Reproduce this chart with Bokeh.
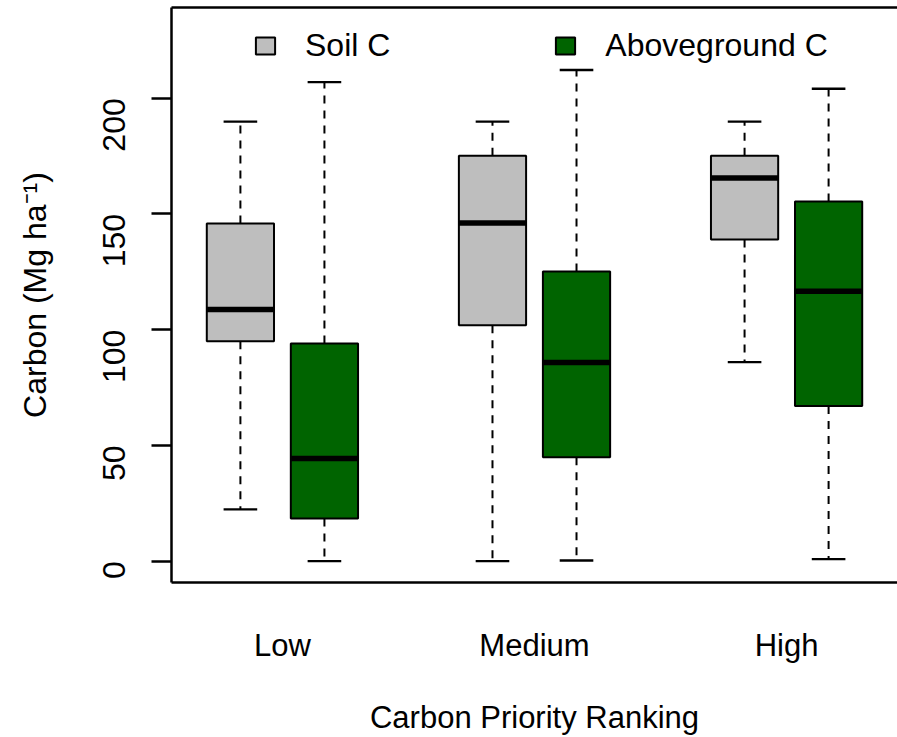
import math

from bokeh.embed import file_html
from bokeh.models import ColumnDataSource, FixedTicker, Legend, LegendItem, LinearAxis, Range1d
from bokeh.plotting import figure
from bokeh.resources import INLINE

# values (Mg ha^-1)
groups = ["Low", "Medium", "High"]
soil_upper = [189.9, 189.9, 189.9]
soil_q3 = [145.9, 175.2, 175.2]
soil_med = [108.7, 146.1, 165.5]
soil_q1 = [95.0, 101.9, 139.0]
soil_lower = [22.4, 0.0, 86.0]
ag_upper = [207.0, 212.2, 204.1]
ag_q3 = [94.0, 125.2, 155.4]
ag_med = [44.4, 85.8, 116.6]
ag_q1 = [18.5, 44.9, 67.0]
ag_lower = [0.0, 0.3, 0.9]
y_ticks = [0, 50, 100, 150, 200]

FONT = "Liberation Sans"
SOIL_COLOR = "#BEBEBE"
AG_COLOR = "#006400"

# R-style positions: 1,2 | 4,5 | 7,8, box width 0.8
soil_x = [3 * i + 1 for i in range(len(groups))]
ag_x = [3 * i + 2 for i in range(len(groups))]
group_x = [3 * i + 1.5 for i in range(len(groups))]


def box_source(xs, lower, q1, med, q3, upper):
    return ColumnDataSource(dict(
        x=xs, lower=lower, q1=q1, med=med, q3=q3, upper=upper,
        cl=[x - 0.2 for x in xs], cr=[x + 0.2 for x in xs],
        ml=[x - 0.4 for x in xs], mr=[x + 0.4 for x in xs],
    ))


p = figure(width=897, height=737, output_backend="svg", toolbar_location=None,
           x_range=Range1d(0.18, 8.82), y_range=Range1d(-9.2, 239.2),
           min_border_left=171, min_border_top=7, min_border_right=0, min_border_bottom=154)
p.outline_line_color = None
p.xgrid.visible = False
p.ygrid.visible = False
p.background_fill_color = "white"
p.border_fill_color = "white"


def draw(src, color):
    p.segment(x0="x", y0="q3", x1="x", y1="upper", source=src, line_color="black",
              line_width=2, line_dash="8 7")
    p.segment(x0="x", y0="q1", x1="x", y1="lower", source=src, line_color="black",
              line_width=2, line_dash="8 7")
    p.segment(x0="cl", y0="upper", x1="cr", y1="upper", source=src, line_color="black", line_width=2.3)
    p.segment(x0="cl", y0="lower", x1="cr", y1="lower", source=src, line_color="black", line_width=2.3)
    r = p.vbar(x="x", width=0.8, bottom="q1", top="q3", source=src, fill_color=color,
               line_color="black", line_width=2)
    p.segment(x0="ml", y0="med", x1="mr", y1="med", source=src, line_color="black",
              line_width=5.5, line_cap="butt")
    return r


soil_r = draw(box_source(soil_x, soil_lower, soil_q1, soil_med, soil_q3, soil_upper), SOIL_COLOR)
ag_r = draw(box_source(ag_x, ag_lower, ag_q1, ag_med, ag_q3, ag_upper), AG_COLOR)

# y axis
yax = p.yaxis[0]
yax.ticker = FixedTicker(ticks=y_ticks)
yax.minor_tick_line_color = None
yax.major_tick_in = 0
yax.major_tick_out = 20
yax.major_tick_line_width = 2.3
yax.axis_line_width = 2.5
yax.major_label_orientation = math.pi / 2
yax.major_label_text_font = FONT
yax.major_label_text_font_size = "32px"
yax.major_label_text_color = "black"
yax.major_label_standoff = 37
yax.axis_label = "Carbon (Mg ha\u207b\u00b9)"
yax.axis_label_text_font = FONT
yax.axis_label_text_font_size = "32px"
yax.axis_label_text_font_style = "normal"
yax.axis_label_text_color = "black"
yax.axis_label_standoff = 37

# x axis
xax = p.xaxis[0]
xax.ticker = FixedTicker(ticks=group_x)
xax.major_label_overrides = {gx: g for gx, g in zip(group_x, groups)}
xax.minor_tick_line_color = None
xax.major_tick_in = 0
xax.major_tick_out = 0
xax.axis_line_width = 2.5
xax.major_label_text_font = FONT
xax.major_label_text_font_size = "31px"
xax.major_label_text_color = "black"
xax.major_label_standoff = 45
xax.axis_label = "Carbon Priority Ranking"
xax.axis_label_text_font = FONT
xax.axis_label_text_font_size = "31px"
xax.axis_label_text_font_style = "normal"
xax.axis_label_text_color = "black"
xax.axis_label_standoff = 34

# top edge of the box frame
top = LinearAxis(ticker=FixedTicker(ticks=[]), major_tick_in=0, major_tick_out=0,
                 major_label_text_font_size="0px", major_label_standoff=0,
                 axis_line_width=2.5, minor_tick_line_color=None)
p.add_layout(top, "above")

legend = Legend(items=[LegendItem(label="Soil C", renderers=[soil_r]),
                       LegendItem(label="Aboveground C", renderers=[ag_r])],
                orientation="horizontal", location=(82, 518), padding=0, margin=0,
                spacing=163, glyph_width=24, glyph_height=21, label_standoff=28,
                label_text_font=FONT, label_text_font_size="32px", label_text_color="black",
                border_line_color=None, background_fill_alpha=0)
p.add_layout(legend)

open("out.html", "w").write(file_html(p, INLINE))
